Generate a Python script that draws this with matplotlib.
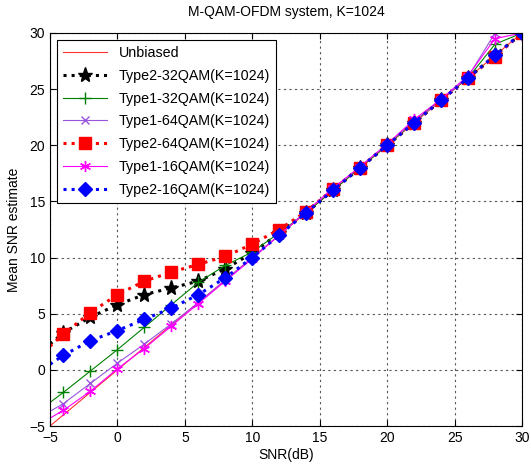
import matplotlib
matplotlib.use("Agg")
import matplotlib.pyplot as plt

plt.rcParams['font.family'] = ['Liberation Sans', 'DejaVu Sans']

# SNR grid (dB); first point only extends the lines to the axis edge
snr = [-5, -4, -2, 0, 2, 4, 6, 8, 10, 12, 14, 16, 18, 20, 22, 24, 26, 28, 30]

unbiased = list(snr)
type2_32 = [2.3, 3.3, 4.7, 5.8, 6.7, 7.3, 7.9, 9.0, 10.4, 12.2, 14.0, 16.0, 18.0, 20.0, 22.0, 24.0, 26.0, 28.0, 30.0]
type1_32 = [-2.9, -2.0, -0.1, 1.8, 3.8, 5.8, 7.8, 9.3, 10.5, 12.2, 14.0, 16.0, 18.0, 20.0, 22.1, 24.1, 26.0, 29.0, 30.0]
type1_64 = [-3.7, -3.0, -1.2, 0.6, 2.3, 4.1, 6.0, 8.0, 10.0, 12.0, 14.1, 16.1, 18.1, 20.1, 22.1, 24.0, 26.1, 30.0, 30.0]
type2_64 = [2.1, 3.2, 5.1, 6.7, 7.9, 8.7, 9.4, 10.1, 11.2, 12.5, 14.1, 16.1, 18.0, 20.0, 22.0, 24.0, 26.0, 27.9, 30.0]
type1_16 = [-4.3, -3.6, -1.9, 0.1, 1.9, 3.9, 5.9, 7.9, 9.9, 12.0, 14.1, 16.2, 18.1, 20.1, 22.3, 24.1, 26.2, 29.5, 30.0]
type2_16 = [0.5, 1.3, 2.6, 3.5, 4.5, 5.5, 6.7, 8.2, 10.0, 12.0, 14.0, 16.0, 18.0, 20.0, 22.0, 24.0, 26.0, 28.0, 30.0]

fig = plt.figure(figsize=(5.31, 4.67), dpi=100)
ax = fig.add_axes([50 / 531, 1 - 426 / 467, 472 / 531, 393 / 467])

mk = slice(1, None)
ax.plot(snr, unbiased, '-', color='#ff3030', lw=0.8, label='Unbiased')
ax.plot(snr, type2_32, ':', color='black', lw=2.2, marker='*', ms=11,
        markevery=mk, label='Type2-32QAM(K=1024)')
ax.plot(snr, type1_32, '-', color='#008000', lw=0.8, marker='+', ms=8,
        markevery=mk, label='Type1-32QAM(K=1024)')
ax.plot(snr, type1_64, '-', color='#9955dd', lw=0.8, marker='x', ms=6,
        markevery=mk, label='Type1-64QAM(K=1024)')
ax.plot(snr, type2_64, ':', color='#ff0000', lw=2.2, marker='s', ms=8,
        markevery=mk, label='Type2-64QAM(K=1024)')
ax.plot(snr, type1_16, '-', color='#ff00ff', lw=0.8, marker=(6, 2, 0), ms=8,
        markevery=mk, label='Type1-16QAM(K=1024)')
ax.plot(snr, type2_16, ':', color='#0000ff', lw=2.2, marker='D', ms=7,
        markevery=mk, label='Type2-16QAM(K=1024)')

ax.set_xlim(-5, 30)
ax.set_ylim(-5, 30)
ax.set_xticks(range(-5, 31, 5))
ax.set_yticks(range(-5, 31, 5))
ax.tick_params(direction='in', labelsize=10, top=True, right=True, length=4)
ax.grid(True, linestyle=(0, (2, 3)), color='#555555', lw=0.8)

ax.set_title('M-QAM-OFDM system, K=1024', fontsize=10, pad=12)
ax.set_xlabel('SNR(dB)', fontsize=10, labelpad=2)
ax.set_ylabel('Mean SNR estimate', fontsize=10, labelpad=6)

leg = ax.legend(loc='upper left', fontsize=10.3, fancybox=False, framealpha=1,
                edgecolor='black', borderaxespad=0.5, handlelength=3.1,
                labelspacing=0.62, borderpad=0.4)
leg.get_frame().set_linewidth(0.8)

fig.savefig('out.png', dpi=100)
